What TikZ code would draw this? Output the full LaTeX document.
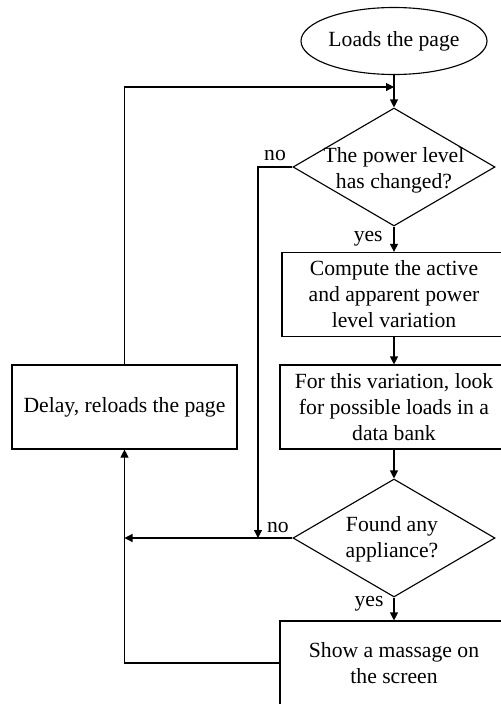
\documentclass[tikz,border=0pt]{standalone}
\usepackage{fontspec}
\setmainfont{Liberation Serif}
\usetikzlibrary{shapes.geometric, arrows.meta, positioning}

\begin{document}
\begin{tikzpicture}[
	font=\fontsize{15.4}{18.5}\selectfont,
	line width=0.8pt,
	block/.style={draw, rectangle, minimum height=2.1cm, align=center, inner sep=0pt},
	decision/.style={draw, diamond, minimum width=5.05cm, minimum height=2.95cm, inner sep=0pt},
	arr/.style={-{Triangle[length=2mm, width=2mm]}},
	lbl/.style={inner sep=0pt}
]
	\useasboundingbox (0,0) rectangle (12.525,-17.6);

	%%% Блоки
	\node[draw, ellipse, minimum width=4.65cm, minimum height=1.675cm, inner sep=0pt] (start) at (9.85,-1.025) {Loads the page};
	
	\node[decision] (chg) at (9.85,-4.175) {};
	\node[align=center] (chgtext) at (9.85,-4.27) {The power level\\has changed?};
	
	\node[block, minimum width=5.6cm] (comp) at (9.85,-7.36) {Compute the active\\and apparent power\\level variation};
	\node[block, minimum width=5.7cm] (look) at (9.85,-10.175) {For this variation, look\\for possible loads in a\\data bank};
	\node[block, minimum width=5.625cm] (delay) at (3.1125,-10.175) {Delay, reloads the page};
	
	\node[decision] (found) at (9.85,-13.45) {};
	\node[align=center] (foundtext) at (9.8,-13.47) {Found any\\appliance?};
	
	\node[block, minimum width=5.7cm] (show) at (9.85,-16.575) {Show a massage on\\the screen};

	% Точки изломов
	\coordinate (merge) at (9.85,-2.175);
	\coordinate (nojoin) at (6.45,-4.175);

	%%% Стрелки
	\draw[arr] (start.south) -- (chg.north);
	\draw[arr] (chg.south) -- (comp.north);
	\draw[arr] (comp.south) -- (look.north);
	\draw[arr] (look.south) -- (found.north);
	\draw[arr] (found.south) -- (show.north);
	
	% Ветви "no"
	\draw[arr] (chg.west) -- (nojoin) -- (nojoin |- found.west);
	\draw[arr] (found.west) -- (delay.south |- found.west);
	
	% Обратная связь
	\draw[arr] (show.west) -| (delay.south);
	\draw[arr] (delay.north) |- (merge);

	%%% Подписи
	\node[lbl, above left=0.15cm and 0.15cm of chg.west] (no1) {no};
	\node[lbl, below left=0.1cm and 0.27cm of chg.south] (yes1) {yes};
	\node[lbl, above left=0.12cm and 0.08cm of found.west] (no2) {no};
	\node[lbl, below left=-0.05cm and 0.25cm of found.south] (yes2) {yes};
\end{tikzpicture}
\end{document}
